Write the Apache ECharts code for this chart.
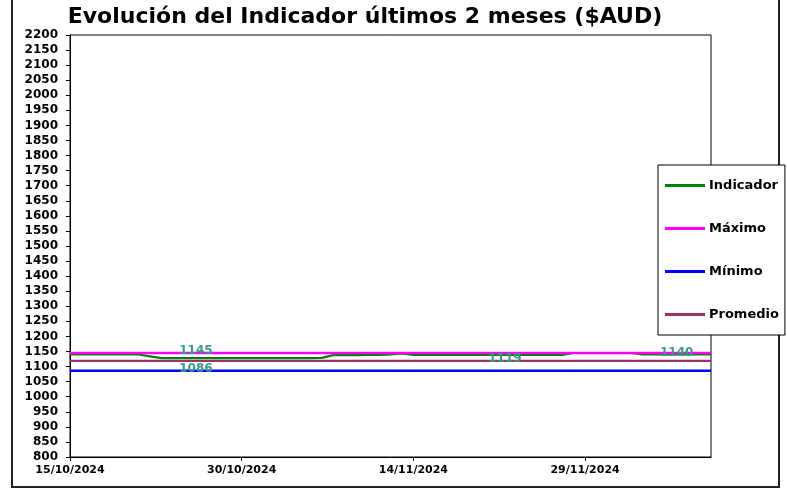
<!DOCTYPE html>
<html>
<head>
<meta charset="utf-8">
<script src="https://cdn.jsdelivr.net/npm/echarts@6/dist/echarts.min.js"></script>
<style>html,body{margin:0;padding:0;background:#fff}#c{width:787px;height:490px}</style>
</head>
<body>
<div id="c"></div>
<script>
const dates = [
 '15/10/2024','16/10/2024','17/10/2024','18/10/2024','19/10/2024','20/10/2024','21/10/2024','22/10/2024','23/10/2024','24/10/2024',
 '25/10/2024','26/10/2024','27/10/2024','28/10/2024','29/10/2024','30/10/2024','31/10/2024',
 '01/11/2024','02/11/2024','03/11/2024','04/11/2024','05/11/2024','06/11/2024','07/11/2024','08/11/2024','09/11/2024','10/11/2024',
 '11/11/2024','12/11/2024','13/11/2024','14/11/2024','15/11/2024','16/11/2024','17/11/2024','18/11/2024','19/11/2024','20/11/2024',
 '21/11/2024','22/11/2024','23/11/2024','24/11/2024','25/11/2024','26/11/2024','27/11/2024','28/11/2024','29/11/2024','30/11/2024',
 '01/12/2024','02/12/2024','03/12/2024','04/12/2024','05/12/2024','06/12/2024','07/12/2024','08/12/2024','09/12/2024','10/12/2024'
];
const indicador = [
 1140,1140,1140,1140,1140,1140,1140,1134,1128,1128,
 1128,1128,1128,1128,1128,1128,1128,1128,1128,1128,
 1128,1128,1129,1138,1138,1138,1139,1139,1140,1144,
 1139,1139,1139,1139,1139,1139,1139,1139,1139,1139,
 1139,1139,1139,1139,1145,1145,1145,1145,1145,1145,
 1140,1140,1140,1140,1140,1140,1140
];
const maximo = 1145;
const minimo = 1086;
const promedio = 1119;
const ultimo = 1140;
const yTicks = { min: 800, max: 2200, step: 50 };
const xLabelStep = 15;
const seriesNames = ['Indicador', 'Máximo', 'Mínimo', 'Promedio'];
const labelPoints = { max: dates[11], min: dates[11], avg: dates[38], last: dates[53] };

const first = dates[0], last = dates[dates.length - 1];
const lbl = (txt) => ({ show: true, position: 'inside', offset: [0, -2], formatter: txt,
  color: '#3a9a88', fontSize: 12, fontWeight: 'bold', fontFamily: 'DejaVu Sans' });
const mp = (coord, val) => ({ symbol: 'circle', symbolSize: 0, silent: true,
  data: [{ coord: coord, value: val, label: lbl(String(val)) }] });
const xInt = (i) => i % xLabelStep === 0 && i < dates.length - 1;

const chart = echarts.init(document.getElementById('c'), null, { renderer: 'canvas' });
chart.setOption({
  animation: false,
  backgroundColor: '#fff',
  title: { text: 'Evolución del Indicador últimos 2 meses ($AUD)', left: 360, textAlign: 'center', top: 1,
    textStyle: { fontFamily: 'DejaVu Sans', fontWeight: 'bold', fontSize: 22, color: '#000' } },
  grid: { left: 70, top: 35, right: 76, bottom: 33, show: true, borderColor: '#000', borderWidth: 1, backgroundColor: '#fff' },
  legend: {
    orient: 'vertical', left: 658, top: 165,
    backgroundColor: '#fff', borderColor: '#000', borderWidth: 1,
    padding: [14, 6, 14, 7], itemGap: 30, itemWidth: 40, itemHeight: 3, icon: 'rect',
    textStyle: { fontFamily: 'DejaVu Sans', fontWeight: 'bold', fontSize: 13, color: '#000', padding: [0, 0, 0, -1] },
    data: seriesNames, z: 10
  },
  xAxis: {
    type: 'category', data: dates, boundaryGap: false,
    axisLine: { lineStyle: { color: '#000', width: 1 } },
    axisTick: { show: true, interval: xInt, length: 4, lineStyle: { color: '#000' } },
    axisLabel: { interval: xInt, margin: 8, fontFamily: 'DejaVu Sans', fontWeight: 'bold', fontSize: 11, color: '#000' },
    splitLine: { show: false }
  },
  yAxis: {
    type: 'value', min: yTicks.min, max: yTicks.max, interval: yTicks.step,
    axisLine: { show: true, lineStyle: { color: '#000', width: 1 } },
    axisTick: { show: true, length: 4, lineStyle: { color: '#000' } },
    axisLabel: { margin: 12, fontFamily: 'DejaVu Sans', fontWeight: 'bold', fontSize: 12, color: '#000',
      formatter: (v) => String(v) },
    splitLine: { show: false }
  },
  series: [
    { name: seriesNames[0], type: 'line', data: indicador, showSymbol: false, symbol: 'none',
      lineStyle: { color: '#008000', width: 2.2 }, itemStyle: { color: '#008000' }, z: 2,
      markPoint: mp([labelPoints.last, ultimo], ultimo) },
    { name: seriesNames[1], type: 'line', data: [[first, maximo], [last, maximo]], symbol: 'none',
      lineStyle: { color: '#ff00ff', width: 2.6 }, itemStyle: { color: '#ff00ff' }, z: 3,
      markPoint: mp([labelPoints.max, maximo], maximo) },
    { name: seriesNames[2], type: 'line', data: [[first, minimo], [last, minimo]], symbol: 'none',
      lineStyle: { color: '#0000ff', width: 2.5 }, itemStyle: { color: '#0000ff' }, z: 3,
      markPoint: mp([labelPoints.min, minimo], minimo) },
    { name: seriesNames[3], type: 'line', data: [[first, promedio], [last, promedio]], symbol: 'none',
      lineStyle: { color: '#993366', width: 2.3 }, itemStyle: { color: '#993366' }, z: 3,
      markPoint: mp([labelPoints.avg, promedio], promedio) }
  ],
  graphic: [
    { type: 'rect', shape: { x: 12, y: -2, width: 767, height: 489 }, z: -10, silent: true,
      style: { fill: 'none', stroke: '#222', lineWidth: 2 } }
  ]
});
</script>
</body>
</html>
